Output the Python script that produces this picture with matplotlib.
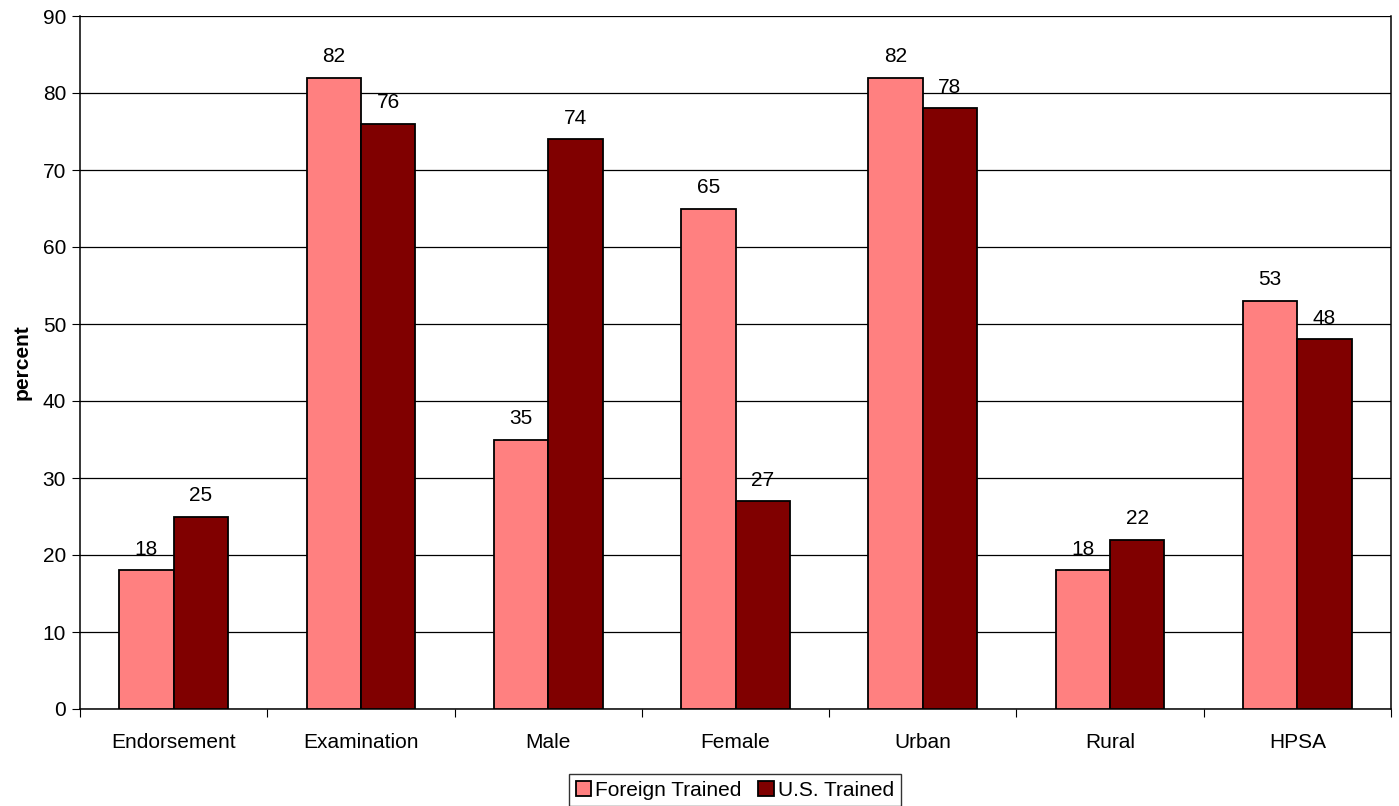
import numpy as np
import matplotlib.pyplot as plt

plt.rcParams['font.family'] = ['Liberation Sans', 'DejaVu Sans']

categories = ['Endorsement', 'Examination', 'Male', 'Female', 'Urban', 'Rural', 'HPSA']
foreign = [18, 82, 35, 65, 82, 18, 53]
us = [25, 76, 74, 27, 78, 22, 48]

fig = plt.figure(figsize=(13.99, 8.06), dpi=100)
ax = fig.add_axes([80/1399, 97/806, 1311/1399, 693/806])

x = np.arange(len(categories))
w = 0.29
b1 = ax.bar(x - w/2, foreign, w, color='#FF8080', edgecolor='black', linewidth=1.3,
            label='Foreign Trained', zorder=3)
b2 = ax.bar(x + w/2, us, w, color='#800000', edgecolor='black', linewidth=1.3,
            label='U.S. Trained', zorder=3)

for bars in (b1, b2):
    for r in bars:
        ax.text(r.get_x() + r.get_width()/2, r.get_height() + 1.5, f"{r.get_height():g}",
                ha='center', va='bottom', fontsize=15)

ax.set_xlim(-0.5, len(categories) - 0.5)
ax.set_ylim(0, 90)
ax.set_yticks(range(0, 91, 10))
ax.yaxis.grid(True, color='black', linewidth=0.9, zorder=0)
ax.set_xticks(np.arange(-0.5, len(categories), 1))
ax.set_xticklabels([])
ax.set_xticks(x, minor=True)
ax.set_xticklabels(categories, minor=True, fontsize=15)
ax.tick_params(axis='x', which='minor', length=0, pad=17)
ax.tick_params(axis='x', which='major', length=6, direction='out')
ax.tick_params(axis='y', length=6, direction='out', labelsize=15, pad=4)
ax.spines['top'].set_visible(False)
for s in ['left', 'bottom', 'right']:
    ax.spines[s].set_linewidth(1.1)
ax.set_ylabel('percent', fontsize=15, fontweight='bold', labelpad=8)

leg = ax.legend(loc='center', bbox_to_anchor=(735/1399, 16/806), bbox_transform=fig.transFigure,
                ncol=2, fontsize=15, frameon=True, fancybox=False, edgecolor='black',
                handlelength=0.75, handleheight=0.75, handletextpad=0.2, columnspacing=0.8,
                borderpad=0.3)
leg.get_frame().set_linewidth(1)

fig.savefig('out.png', dpi=100)
